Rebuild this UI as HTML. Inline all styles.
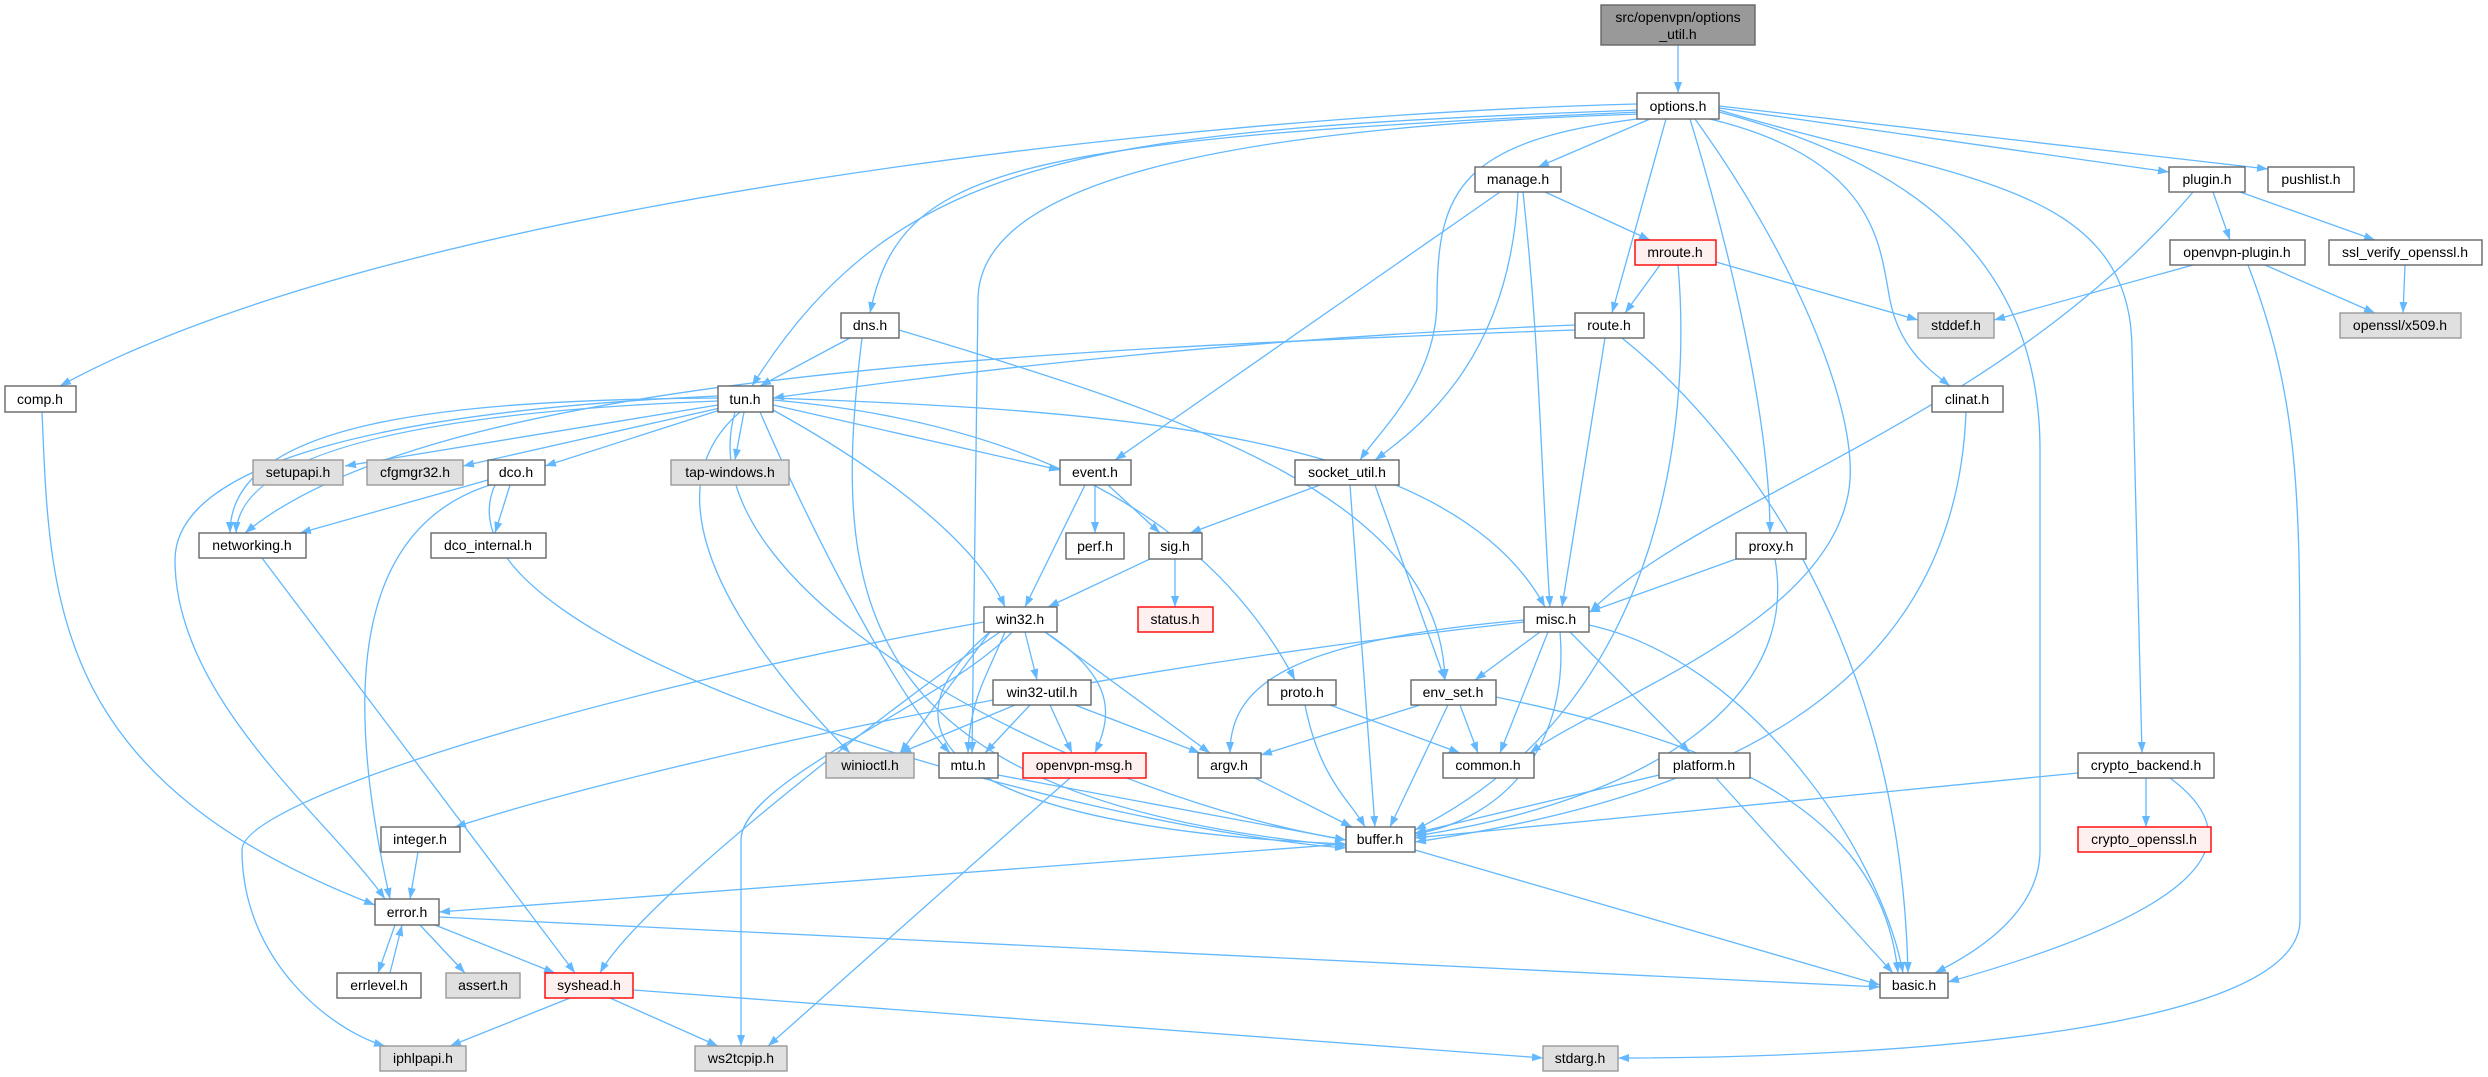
<!DOCTYPE html>
<html><head><meta charset="utf-8"><style>
html,body{margin:0;padding:0;background:#fff;}
svg{display:block}
text{font-family:"Liberation Sans",sans-serif;font-size:14px;fill:#000;text-anchor:middle}
.n rect{fill:#fff;stroke:#666;stroke-width:1.4}
.g rect{fill:#e0e0e0;stroke:#999;stroke-width:1.4}
.r rect{fill:#fff0f0;stroke:#f00;stroke-width:1.4}
.s rect{fill:#999;stroke:#666;stroke-width:1.4}
.e path{fill:none;stroke:#63b8ff;stroke-width:1.3;marker-end:url(#a)}
</style></head><body>
<svg width="2488" height="1077" viewBox="0 0 2488 1077" xmlns="http://www.w3.org/2000/svg">
<defs><marker id="a" markerUnits="userSpaceOnUse" markerWidth="12" markerHeight="9" refX="11" refY="4" orient="auto"><path d="M0,0 L11,4 L0,8 z" fill="#63b8ff"/></marker></defs>
<g class="e">
<path d="M1678,45 L1678,93"/>
<path d="M1637,104 C1200,115 400,200 60,386"/>
<path d="M1640,110 C1100,130 900,150 752,386"/>
<path d="M1640,112 C1000,140 900,170 870,313"/>
<path d="M1640,114 C1150,130 978,200 978,300 L972,753"/>
<path d="M1650,119 L1538,167"/>
<path d="M1645,118 C1460,140 1437,190 1437,300 C1437,380 1380,430 1360,460"/>
<path d="M1666,119 L1612,313"/>
<path d="M1690,119 C1730,250 1770,420 1770,533"/>
<path d="M1695,119 C1790,250 1855,400 1850,480 C1840,620 1600,700 1530,753"/>
<path d="M1710,119 C1880,160 1880,250 1890,300 C1900,350 1930,370 1950,386"/>
<path d="M1719,112 C1900,160 2040,250 2040,450 L2040,850 C2040,920 1960,960 1935,973"/>
<path d="M1719,110 C1950,180 2132,180 2132,350 L2142,753"/>
<path d="M1719,108 L2169,172"/>
<path d="M1719,106 L2268,169"/>
<path d="M1500,192 L1115,460"/>
<path d="M1518,192 C1510,350 1430,420 1375,460"/>
<path d="M1523,192 C1540,350 1540,450 1550,607"/>
<path d="M1545,192 L1650,240"/>
<path d="M1660,265 L1625,313"/>
<path d="M1716,262 L1918,320"/>
<path d="M1678,265 C1690,400 1675,700 1415,830"/>
<path d="M1575,325 C1200,340 900,380 773,398"/>
<path d="M1575,330 C1000,350 430,380 245,533"/>
<path d="M1605,338 L1562,607"/>
<path d="M1622,338 C1700,400 1900,600 1908,973"/>
<path d="M850,338 L760,386"/>
<path d="M862,338 C830,600 850,800 1346,846"/>
<path d="M899,330 C1200,420 1440,500 1445,680"/>
<path d="M2213,192 L2230,240"/>
<path d="M2240,192 L2375,240"/>
<path d="M2193,192 C2000,420 1700,500 1590,612"/>
<path d="M2193,265 L1994,320"/>
<path d="M2265,265 L2375,313"/>
<path d="M2248,265 C2300,400 2300,500 2300,700 L2300,920 C2300,1030 1900,1058 1618,1058"/>
<path d="M2405,265 L2403,313"/>
<path d="M1966,412 C1955,700 1700,800 1415,842"/>
<path d="M718,405 L345,466"/>
<path d="M720,408 L463,466"/>
<path d="M720,410 L545,466"/>
<path d="M744,412 L735,460"/>
<path d="M718,398 C450,400 230,420 230,533"/>
<path d="M718,401 C480,410 240,440 236,533"/>
<path d="M718,396 C400,410 175,460 175,560 C175,700 330,820 385,899"/>
<path d="M773,405 L1060,470"/>
<path d="M773,410 C900,480 980,550 1005,607"/>
<path d="M773,400 C1000,420 1200,500 1295,680"/>
<path d="M773,398 C1100,410 1450,430 1545,607"/>
<path d="M760,412 C820,550 900,700 950,753"/>
<path d="M740,412 C660,480 700,600 850,753"/>
<path d="M735,412 C680,600 1100,800 1346,840"/>
<path d="M488,480 L300,533"/>
<path d="M510,485 L495,533"/>
<path d="M490,485 C350,530 345,700 390,899"/>
<path d="M495,485 C420,650 1100,830 1346,848"/>
<path d="M262,558 L575,973"/>
<path d="M1095,485 L1095,533"/>
<path d="M1108,485 L1160,533"/>
<path d="M1085,485 L1025,607"/>
<path d="M1320,485 L1190,533"/>
<path d="M1375,485 L1445,680"/>
<path d="M1350,485 L1375,827"/>
<path d="M1150,559 L1048,607"/>
<path d="M1175,559 L1175,607"/>
<path d="M1736,559 L1589,612"/>
<path d="M1775,559 C1800,700 1650,800 1415,836"/>
<path d="M1025,632 L1037,680"/>
<path d="M1005,632 C985,680 970,700 968,753"/>
<path d="M1045,632 C1120,680 1110,720 1095,753"/>
<path d="M1045,632 L1210,753"/>
<path d="M1000,632 C900,700 640,900 600,973"/>
<path d="M1012,632 C950,700 741,780 741,840 L741,1046"/>
<path d="M984,622 C600,690 242,800 242,850 C242,960 330,1030 385,1046"/>
<path d="M990,632 L900,753"/>
<path d="M990,632 C850,750 1000,830 1346,844"/>
<path d="M1015,705 L900,753"/>
<path d="M1030,705 L985,753"/>
<path d="M1050,705 L1072,753"/>
<path d="M1075,705 L1200,753"/>
<path d="M1540,632 L1475,680"/>
<path d="M1524,620 C1300,640 1230,680 1230,753"/>
<path d="M1548,632 L1500,753"/>
<path d="M1570,632 L1690,753"/>
<path d="M1560,632 C1570,750 1500,820 1415,834"/>
<path d="M1589,625 C1750,660 1880,850 1903,973"/>
<path d="M1524,622 C1000,680 600,780 455,827"/>
<path d="M1330,705 L1460,753"/>
<path d="M1305,705 C1320,780 1350,800 1365,827"/>
<path d="M1420,705 L1261,755"/>
<path d="M1460,705 L1478,753"/>
<path d="M1448,705 L1390,827"/>
<path d="M1496,697 C1700,740 1880,800 1898,973"/>
<path d="M998,775 L1346,840"/>
<path d="M1255,778 L1352,827"/>
<path d="M1659,775 L1415,833"/>
<path d="M1716,778 L1893,973"/>
<path d="M1070,778 L768,1046"/>
<path d="M2078,773 L1415,838"/>
<path d="M2146,778 L2146,827"/>
<path d="M2170,778 C2240,830 2240,900 1948,982"/>
<path d="M418,852 L410,899"/>
<path d="M42,412 C50,600 50,780 375,905"/>
<path d="M1346,844 L439,912"/>
<path d="M1415,850 L1880,985"/>
<path d="M395,925 L378,973"/>
<path d="M390,973 L402,925"/>
<path d="M420,925 L465,973"/>
<path d="M435,925 L555,973"/>
<path d="M439,917 L1880,987"/>
<path d="M570,998 L450,1046"/>
<path d="M610,998 L718,1046"/>
<path d="M633,990 L1543,1058"/>
</g>
<g class="s"><rect x="1601" y="5" width="154" height="40"/></g>
<text x="1678" y="22">src/openvpn/options</text><text x="1678" y="39">_util.h</text>
<g class="n">
<rect x="1637" y="93" width="82" height="26"/>
<rect x="1475" y="167" width="86" height="25"/>
<rect x="2169" y="167" width="76" height="25"/>
<rect x="2268" y="167" width="86" height="25"/>
<rect x="2170" y="240" width="135" height="25"/>
<rect x="2329" y="240" width="153" height="25"/>
<rect x="841" y="313" width="58" height="25"/>
<rect x="1575" y="313" width="69" height="25"/>
<rect x="5" y="386" width="71" height="26"/>
<rect x="718" y="386" width="55" height="26"/>
<rect x="1932" y="386" width="71" height="26"/>
<rect x="488" y="460" width="57" height="25"/>
<rect x="1060" y="460" width="71" height="25"/>
<rect x="1295" y="460" width="104" height="25"/>
<rect x="199" y="533" width="107" height="25"/>
<rect x="431" y="533" width="115" height="25"/>
<rect x="1066" y="533" width="58" height="26"/>
<rect x="1149" y="533" width="53" height="26"/>
<rect x="1736" y="533" width="70" height="26"/>
<rect x="984" y="607" width="73" height="25"/>
<rect x="1524" y="607" width="65" height="25"/>
<rect x="993" y="680" width="98" height="25"/>
<rect x="1268" y="680" width="68" height="25"/>
<rect x="1411" y="680" width="85" height="25"/>
<rect x="939" y="753" width="59" height="25"/>
<rect x="1198" y="753" width="63" height="25"/>
<rect x="1443" y="753" width="91" height="25"/>
<rect x="1659" y="753" width="91" height="25"/>
<rect x="2078" y="753" width="136" height="25"/>
<rect x="381" y="827" width="79" height="25"/>
<rect x="1346" y="827" width="69" height="25"/>
<rect x="375" y="899" width="64" height="26"/>
<rect x="337" y="973" width="84" height="25"/>
<rect x="1880" y="973" width="68" height="25"/>
</g>
<g class="g">
<rect x="1918" y="313" width="76" height="25"/>
<rect x="2340" y="313" width="121" height="25"/>
<rect x="253" y="460" width="90" height="25"/>
<rect x="367" y="460" width="96" height="25"/>
<rect x="671" y="460" width="118" height="25"/>
<rect x="826" y="753" width="88" height="25"/>
<rect x="446" y="973" width="74" height="25"/>
<rect x="380" y="1046" width="86" height="25"/>
<rect x="695" y="1046" width="92" height="25"/>
<rect x="1543" y="1046" width="75" height="25"/>
</g>
<g class="r">
<rect x="1635" y="240" width="81" height="25"/>
<rect x="1138" y="607" width="75" height="25"/>
<rect x="1023" y="753" width="123" height="25"/>
<rect x="2078" y="827" width="133" height="25"/>
<rect x="545" y="973" width="88" height="25"/>
</g>
<text x="1678" y="111">options.h</text>
<text x="1518" y="184">manage.h</text>
<text x="2207" y="184">plugin.h</text>
<text x="2311" y="184">pushlist.h</text>
<text x="2237" y="257">openvpn-plugin.h</text>
<text x="2405" y="257">ssl_verify_openssl.h</text>
<text x="1675" y="257">mroute.h</text>
<text x="870" y="330">dns.h</text>
<text x="1609" y="330">route.h</text>
<text x="1956" y="330">stddef.h</text>
<text x="2400" y="330">openssl/x509.h</text>
<text x="40" y="404">comp.h</text>
<text x="745" y="404">tun.h</text>
<text x="1967" y="404">clinat.h</text>
<text x="298" y="477">setupapi.h</text>
<text x="415" y="477">cfgmgr32.h</text>
<text x="516" y="477">dco.h</text>
<text x="730" y="477">tap-windows.h</text>
<text x="1095" y="477">event.h</text>
<text x="1347" y="477">socket_util.h</text>
<text x="252" y="550">networking.h</text>
<text x="488" y="550">dco_internal.h</text>
<text x="1095" y="551">perf.h</text>
<text x="1175" y="551">sig.h</text>
<text x="1771" y="551">proxy.h</text>
<text x="1020" y="624">win32.h</text>
<text x="1175" y="624">status.h</text>
<text x="1556" y="624">misc.h</text>
<text x="1042" y="697">win32-util.h</text>
<text x="1302" y="697">proto.h</text>
<text x="1453" y="697">env_set.h</text>
<text x="870" y="770">winioctl.h</text>
<text x="968" y="770">mtu.h</text>
<text x="1084" y="770">openvpn-msg.h</text>
<text x="1229" y="770">argv.h</text>
<text x="1488" y="770">common.h</text>
<text x="1704" y="770">platform.h</text>
<text x="2146" y="770">crypto_backend.h</text>
<text x="420" y="844">integer.h</text>
<text x="1380" y="844">buffer.h</text>
<text x="2144" y="844">crypto_openssl.h</text>
<text x="407" y="917">error.h</text>
<text x="379" y="990">errlevel.h</text>
<text x="483" y="990">assert.h</text>
<text x="589" y="990">syshead.h</text>
<text x="1914" y="990">basic.h</text>
<text x="423" y="1063">iphlpapi.h</text>
<text x="741" y="1063">ws2tcpip.h</text>
<text x="1580" y="1063">stdarg.h</text>
</svg>
</body></html>
